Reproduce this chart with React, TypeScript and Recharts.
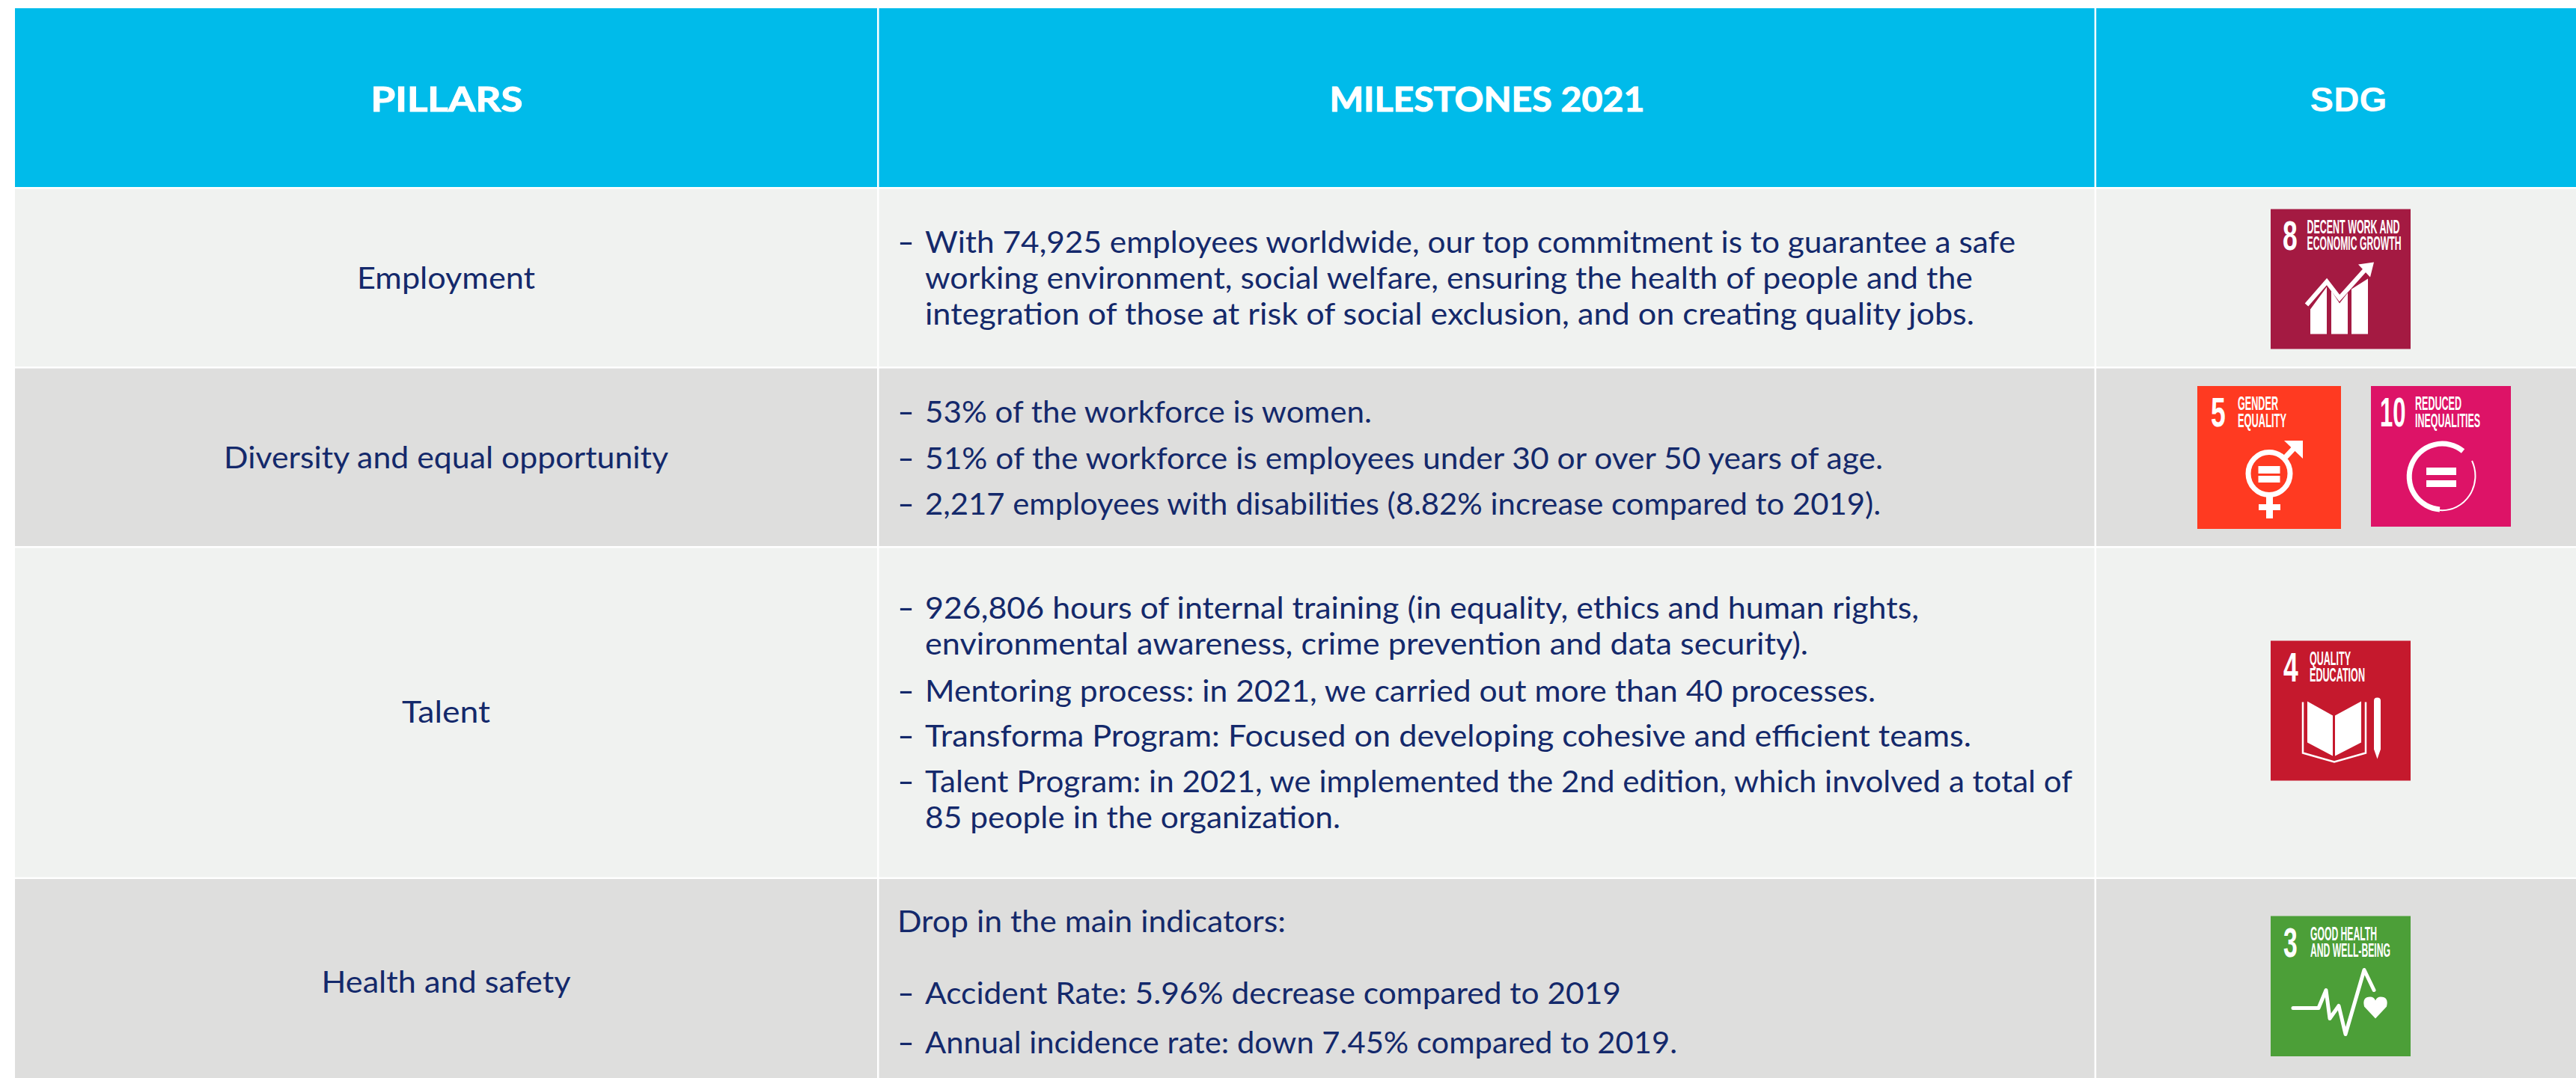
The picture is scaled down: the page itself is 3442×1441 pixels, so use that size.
import React from "react";
import { ComposedChart, ReferenceArea, Scatter, XAxis, YAxis } from "recharts";

const W = 3442;
const H = 1441;

const BODY_FONT = "Lato, sans-serif";
const TILE_FONT = "'Liberation Sans Narrow', 'Liberation Sans', sans-serif";
const NAVY = "#14296b";

// table grid (px)
const columnStarts = [20, 1174.5, 2801];
const columnEnds = [1172, 2798.5, 3442];
const rowStarts = [11, 252.5, 492.5, 732.5, 1175];
const rowEnds = [250, 490, 730, 1172.5, 1441];
const rowFills = ["#00bbea", "#f0f2f0", "#dededd", "#f0f2f0", "#dededd"];

const headers = ["PILLARS", "MILESTONES 2021", "SDG"];
const headerCentres = [597, 1987, 3138];
const headerWidths = [203, 421, 103];
const headerBaseline = 148.5;

const pillars = ["Employment", "Diversity and equal opportunity", "Talent", "Health and safety"];
const pillarBaselines = [386, 626, 966, 1327];
const pillarWidths = [238, 594, 118, 333];

const milestoneLines = [
  "With 74,925 employees worldwide, our top commitment is to guarantee a safe",
  "working environment, social welfare, ensuring the health of people and the",
  "integration of those at risk of social exclusion, and on creating quality jobs.",
  "53% of the workforce is women.",
  "51% of the workforce is employees under 30 or over 50 years of age.",
  "2,217 employees with disabilities (8.82% increase compared to 2019).",
  "926,806 hours of internal training (in equality, ethics and human rights,",
  "environmental awareness, crime prevention and data security).",
  "Mentoring process: in 2021, we carried out more than 40 processes.",
  "Transforma Program: Focused on developing cohesive and efficient teams.",
  "Talent Program: in 2021, we implemented the 2nd edition, which involved a total of",
  "85 people in the organization.",
  "Drop in the main indicators:",
  "Accident Rate: 5.96% decrease compared to 2019",
  "Annual incidence rate: down 7.45% compared to 2019.",
];
const milestoneBaselines = [338, 386, 434, 565, 627, 688, 827, 875, 938, 998, 1059, 1107, 1246, 1342, 1408];
const milestoneWidths = [1457, 1400, 1402, 597, 1280, 1277, 1328, 1180, 1270, 1398, 1533, 555, 519, 930, 1005];
// 0 = hanging continuation, 1 = starts with a dash, 2 = flush paragraph
const milestoneKinds = [1, 0, 0, 1, 1, 1, 1, 0, 1, 1, 1, 0, 2, 1, 1];

const sdgIds = ["8", "5", "10", "4", "3"];
const sdgLeft = [3034, 2936, 3168, 3034, 3034];
const sdgRight = [3221, 3128, 3355, 3221, 3221];
const sdgTop = [279.5, 516, 516, 856.5, 1224.5];
const sdgBottom = [466.5, 707, 704, 1043.5, 1412];
const sdgFills = ["#a41a42", "#ff3a21", "#dd1367", "#c5192d", "#4c9f38"];
const sdgTitles = [
  ["DECENT WORK AND", "ECONOMIC GROWTH"],
  ["GENDER", "EQUALITY"],
  ["REDUCED", "INEQUALITIES"],
  ["QUALITY", "EDUCATION"],
  ["GOOD HEALTH", "AND WELL-BEING"],
];
const sdgTitleX = [48.5, 54, 59, 52, 53];
const sdgTitleWidths = [
  [124, 126],
  [54, 65],
  [62, 87],
  [55, 74],
  [89, 107],
];
const sdgNumberX = [16, 18, 12, 17, 17];
const sdgNumberWidths = [20, 20, 35, 20, 19];

const headerRows = headers.map((label, i) => ({ x: headerCentres[i], y: headerBaseline, label, width: headerWidths[i] }));
const pillarRows = pillars.map((label, i) => ({ x: headerCentres[0] - 1, y: pillarBaselines[i], label, width: pillarWidths[i] }));
const milestoneRows = milestoneLines.map((label, i) => ({
  x: milestoneKinds[i] === 2 ? 1199 : 1236,
  y: milestoneBaselines[i],
  label,
  width: milestoneWidths[i],
}));
const dashRows = milestoneBaselines
  .filter((_, i) => milestoneKinds[i] === 1)
  .map((y) => ({ x: 1199, y, label: "-", width: 23 }));
const tileRows = sdgIds.map((id, i) => ({ x: sdgLeft[i], y: sdgTop[i], id, index: i }));

const HeaderMark = ({ cx, cy, payload }: any) => {
  const isSdg = payload.label === "SDG";
  return (
    <text
      x={cx}
      y={cy}
      textAnchor="middle"
      fill="#ffffff"
      stroke={isSdg ? "none" : "#ffffff"}
      strokeWidth={1}
      fontWeight={700}
      fontSize={isSdg ? 47 : 45}
      fontFamily={isSdg ? "'Liberation Sans', sans-serif" : BODY_FONT}
      textLength={payload.width}
      lengthAdjust="spacingAndGlyphs"
    >
      {payload.label}
    </text>
  );
};

const PillarMark = ({ cx, cy, payload }: any) => (
  <text
    x={cx}
    y={cy}
    textAnchor="middle"
    fill={NAVY}
    fontSize={41}
    fontFamily={BODY_FONT}
    textLength={payload.width}
    lengthAdjust="spacingAndGlyphs"
  >
    {payload.label}
  </text>
);

const LineMark = ({ cx, cy, payload }: any) => (
  <text
    x={cx}
    y={cy}
    fill={NAVY}
    fontSize={41}
    fontFamily={BODY_FONT}
    textLength={payload.width}
    lengthAdjust="spacingAndGlyphs"
  >
    {payload.label}
  </text>
);

const Icon = ({ id }: { id: string }) => {
  if (id === "8") {
    return (
      <g fill="#ffffff">
        <path d="M53 134 L75 104 L75 167 L53 167 Z" />
        <path d="M81 109 L92 126 L103 112 L103 167 L81 167 Z" />
        <path d="M108 107 L130 93 L130 167 L108 167 Z" />
        <path d="M48 128 L75 97 L92 119 L128 79" fill="none" stroke="#ffffff" strokeWidth={6} />
        <path d="M138 71 L117 74 L133 91 Z" />
      </g>
    );
  }
  if (id === "5") {
    return (
      <g fill="#ffffff">
        <ellipse cx={96} cy={117} rx={28} ry={28.5} fill="none" stroke="#ffffff" strokeWidth={7} />
        <rect x={81.5} y={107} width={29} height={10} />
        <rect x={81.5} y={120} width={29} height={9} />
        <rect x={92} y={148} width={9} height={29} />
        <rect x={82} y={158} width={29} height={8} />
        <path d="M118 95 L133 79" fill="none" stroke="#ffffff" strokeWidth={7} />
        <path d="M116 73 L141 73 L141 97 Z" />
      </g>
    );
  }
  if (id === "10") {
    return (
      <g fill="#ffffff">
        <path d="M123 87 A 44 44 0 1 0 92 165" fill="none" stroke="#ffffff" strokeWidth={7} />
        <path d="M92 166 A 44 46 0 0 0 135 100" fill="none" stroke="#ffffff" strokeWidth={2} />
        <rect x={74} y={109} width={40} height={10} />
        <rect x={74} y={126} width={40} height={9} />
      </g>
    );
  }
  if (id === "4") {
    return (
      <g fill="#ffffff">
        <path d="M49 81 L83 100 L83 154 L49 136 Z" />
        <path d="M86 100 L121 81 L121 136 L86 154 Z" />
        <path d="M43 82 L43 150 L85 162 L127 150 L127 82" fill="none" stroke="#ffffff" strokeWidth={2.5} />
        <path d="M138 80 Q138 76 142.5 76 Q147 76 147 80 L147 145 L142.5 158 L138 145 Z" />
      </g>
    );
  }
  return (
    <g fill="#ffffff">
      <path
        d="M30 123 L64 123 L74 99 L79 137 L91 120 L100 158 L125 72 L138 99"
        fill="none"
        stroke="#ffffff"
        strokeWidth={5}
        strokeLinejoin="round"
        strokeLinecap="round"
      />
      <path d="M140 137 L125 121 Q122 108 133 108 Q138 108 140 113 Q142 108 147 108 Q158 108 155 121 Z" />
    </g>
  );
};

const TileMark = ({ cx, cy, payload }: any) => {
  const i = payload.index;
  // a digit of the fallback bold face is about 31px wide at this size
  const squeeze = sdgNumberWidths[i] / (payload.id.length * 31);
  return (
    <g transform={`translate(${cx} ${cy})`}>
      <text
        transform={`translate(${sdgNumberX[i]} 54) scale(${squeeze} 1)`}
        fill="#ffffff"
        fontWeight={700}
        fontSize={55}
        fontFamily={TILE_FONT}
      >
        {payload.id}
      </text>
      {sdgTitles[i].map((line, k) => (
        <text
          key={line}
          x={sdgTitleX[i]}
          y={k === 0 ? 32 : 54.5}
          fill="#ffffff"
          fontWeight={700}
          fontSize={25}
          fontFamily={TILE_FONT}
          textLength={sdgTitleWidths[i][k]}
          lengthAdjust="spacingAndGlyphs"
        >
          {line}
        </text>
      ))}
      <Icon id={payload.id} />
    </g>
  );
};

export default function App() {
  return (
    <div style={{ position: "absolute", left: 0, top: 0, width: W, height: H, background: "#ffffff" }}>
      <ComposedChart width={W} height={H} margin={{ top: 0, right: 0, bottom: 0, left: 0 }}>
        <XAxis type="number" dataKey="x" domain={[0, W]} hide allowDataOverflow />
        <YAxis type="number" dataKey="y" domain={[0, H]} reversed hide allowDataOverflow />
        {rowStarts.map((top, r) =>
          columnStarts.map((left, c) => (
            <ReferenceArea
              key={`${r}-${c}`}
              x1={left}
              x2={columnEnds[c]}
              y1={top}
              y2={rowEnds[r]}
              fill={rowFills[r]}
              fillOpacity={1}
              stroke="none"
              ifOverflow="visible"
            />
          ))
        )}
        {sdgIds.map((id, i) => (
          <ReferenceArea
            key={id}
            x1={sdgLeft[i]}
            x2={sdgRight[i]}
            y1={sdgTop[i]}
            y2={sdgBottom[i]}
            fill={sdgFills[i]}
            fillOpacity={1}
            stroke="none"
            ifOverflow="visible"
          />
        ))}
        <Scatter data={headerRows} shape={HeaderMark} isAnimationActive={false} />
        <Scatter data={pillarRows} shape={PillarMark} isAnimationActive={false} />
        <Scatter data={milestoneRows} shape={LineMark} isAnimationActive={false} />
        <Scatter data={dashRows} shape={LineMark} isAnimationActive={false} />
        <Scatter data={tileRows} shape={TileMark} isAnimationActive={false} />
      </ComposedChart>
    </div>
  );
}
